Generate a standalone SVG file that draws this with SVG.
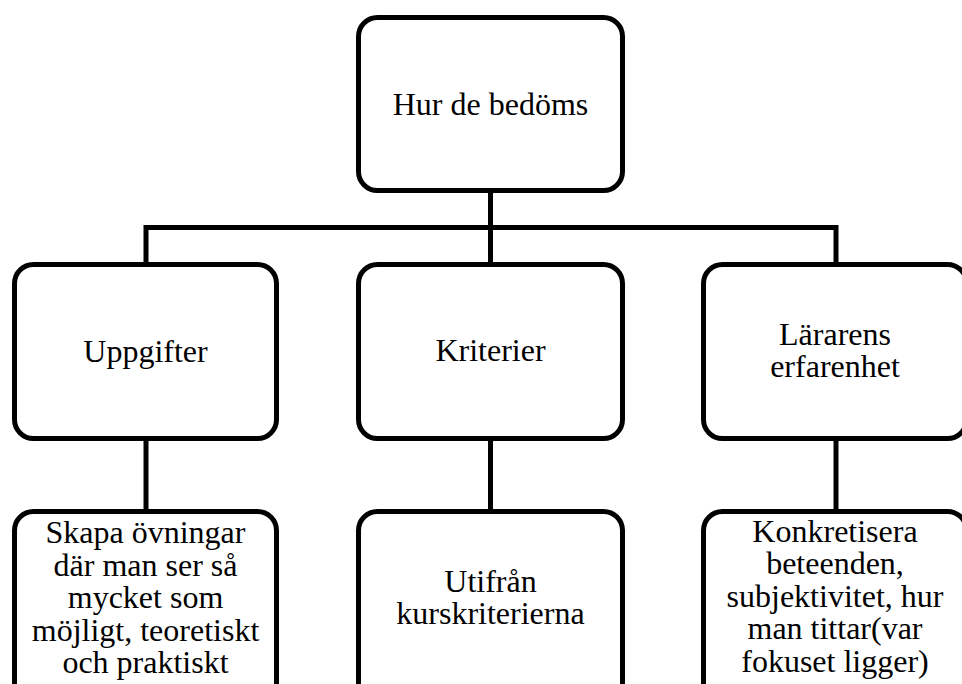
<svg xmlns="http://www.w3.org/2000/svg" width="962" height="684" viewBox="0 0 962 684">
  <style>
    .box { fill: #ffffff; stroke: #000000; stroke-width: 5; }
    .link { fill: none; stroke: #000000; stroke-width: 5; stroke-linejoin: miter; }
    .label { font-family: "Liberation Serif", "Times New Roman", serif; font-size: 32px; fill: #000000; text-anchor: middle; }
  </style>
  <rect width="962" height="684" fill="#ffffff"/>

  <!-- connectors -->
  <g id="connectors">
    <path class="link" d="M490.5 190 V227.5"/>
    <path class="link" d="M146 265 V227.5 H836 V265"/>
    <path class="link" d="M490.5 227.5 V265"/>
    <path class="link" d="M146 438 V512"/>
    <path class="link" d="M490.5 438 V512"/>
    <path class="link" d="M836 438 V512"/>
  </g>

  <!-- root -->
  <g id="node-root">
    <rect class="box" x="358.5" y="17.5" width="264" height="173" rx="19"/>
    <text class="label" x="490.5" y="115">Hur de bedöms</text>
  </g>

  <!-- second level -->
  <g id="node-uppgifter">
    <rect class="box" x="14.5" y="264.5" width="262" height="174" rx="19"/>
    <text class="label" x="145.5" y="362">Uppgifter</text>
  </g>
  <g id="node-kriterier">
    <rect class="box" x="358.5" y="264.5" width="264" height="174" rx="19"/>
    <text class="label" x="490.5" y="361">Kriterier</text>
  </g>
  <g id="node-erfarenhet">
    <rect class="box" x="703.5" y="264.5" width="263" height="174" rx="19"/>
    <text class="label" x="835" y="345">Lärarens</text>
    <text class="label" x="835" y="377">erfarenhet</text>
  </g>

  <!-- third level -->
  <g id="node-ovningar">
    <rect class="box" x="14.5" y="511.5" width="262" height="200" rx="19"/>
    <text class="label" x="145.5" y="543">Skapa övningar</text>
    <text class="label" x="145.5" y="576">där man ser så</text>
    <text class="label" x="145.5" y="608">mycket som</text>
    <text class="label" x="145.5" y="641">möjligt, teoretiskt</text>
    <text class="label" x="145.5" y="673">och praktiskt</text>
  </g>
  <g id="node-kurskriterier">
    <rect class="box" x="358.5" y="511.5" width="264" height="200" rx="19"/>
    <text class="label" x="490.5" y="592">Utifrån</text>
    <text class="label" x="490.5" y="624">kurskriterierna</text>
  </g>
  <g id="node-konkretisera">
    <rect class="box" x="703.5" y="511.5" width="263" height="200" rx="19"/>
    <text class="label" x="835" y="542">Konkretisera</text>
    <text class="label" x="835" y="574">beteenden,</text>
    <text class="label" x="835" y="607">subjektivitet, hur</text>
    <text class="label" x="835" y="639">man tittar(var</text>
    <text class="label" x="835" y="672">fokuset ligger)</text>
  </g>
</svg>
